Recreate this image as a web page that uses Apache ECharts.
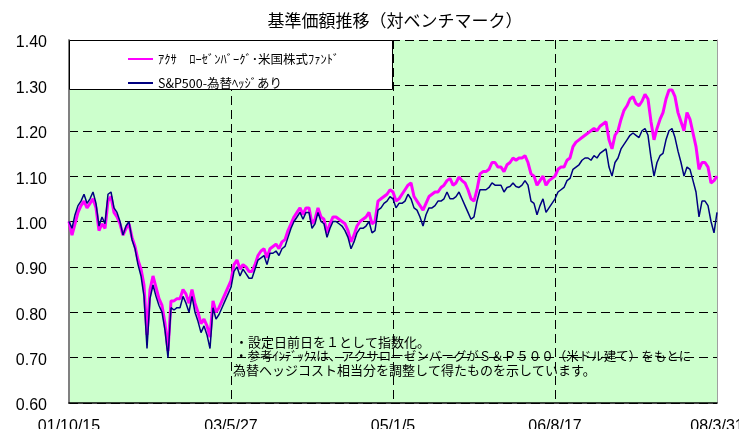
<!DOCTYPE html>
<html><head><meta charset="utf-8">
<script src="https://cdn.jsdelivr.net/npm/echarts@6.0.0/dist/echarts.min.js"></script>
<style>html,body{margin:0;padding:0;background:#fff}#c{width:739px;height:429px}</style>
</head><body><div id="c"></div>
<script>
// ---- data ----
const titleText = '基準価額推移（対ベンチマーク）';
const seriesNames = ['ｱｸｻ　ﾛｰｾﾞﾝﾊﾞｰｸﾞ･米国株式ﾌｧﾝﾄﾞ', 'S&P500-為替ﾍｯｼﾞあり'];
const tickLabels = ['01/10/15', '03/5/27', '05/1/5', '06/8/17', '08/3/31'];
const noteLines = [
  '・設定日前日を１として指数化。',
  '・参考ｲﾝﾃﾞｯｸｽは、アクサローゼンバーグがＳ＆Ｐ５００（米ドル建て）をもとに',
  '為替ヘッジコスト相当分を調整して得たものを示しています。'
];
// fund (index, 1 = day before launch)
const fund = [
  1.00,0.97,0.995,1.02,1.035,1.045,1.03,1.04,1.05,1.03,
  0.98,0.995,0.985,1.045,1.055,1.02,1.01,0.995,0.97,0.985,
  0.995,0.965,0.945,0.915,0.895,0.86,0.75,0.85,0.88,0.855,
  0.83,0.815,0.775,0.715,0.825,0.825,0.83,0.83,0.85,0.84,
  0.82,0.85,0.82,0.80,0.775,0.785,0.77,0.745,0.825,0.80,
  0.81,0.825,0.84,0.855,0.87,0.905,0.915,0.895,0.905,0.90,
  0.89,0.89,0.905,0.925,0.935,0.94,0.92,0.94,0.945,0.95,
  0.94,0.955,0.96,0.98,0.995,1.01,1.02,1.03,1.015,1.03,
  1.03,0.995,1.005,1.03,1.01,1.005,0.975,0.995,1.01,1.01,
  1.005,1.00,0.995,0.98,0.955,0.97,0.99,1.00,1.005,1.01,
  1.02,0.995,1.00,1.045,1.05,1.055,1.06,1.07,1.065,1.045,
  1.05,1.06,1.07,1.08,1.085,1.055,1.045,1.035,1.025,1.04,
  1.055,1.06,1.065,1.065,1.075,1.08,1.09,1.095,1.08,1.085,
  1.098,1.09,1.085,1.07,1.05,1.045,1.07,1.105,1.11,1.11,
  1.115,1.13,1.13,1.12,1.12,1.11,1.125,1.13,1.14,1.135,
  1.14,1.14,1.145,1.13,1.105,1.10,1.08,1.09,1.10,1.08,
  1.09,1.095,1.10,1.115,1.12,1.12,1.135,1.14,1.165,1.175,
  1.18,1.185,1.19,1.195,1.20,1.205,1.20,1.21,1.215,1.22,
  1.18,1.16,1.19,1.20,1.225,1.245,1.255,1.27,1.275,1.26,
  1.255,1.265,1.28,1.27,1.22,1.18,1.205,1.225,1.24,1.27,
  1.29,1.29,1.275,1.24,1.22,1.20,1.24,1.225,1.195,1.165,
  1.115,1.13,1.13,1.12,1.085,1.09,1.10
];
// benchmark (S&P500 hedged, index)
const bench = [
  1.00,0.985,1.015,1.035,1.045,1.06,1.04,1.05,1.065,1.04,
  0.99,1.01,0.995,1.06,1.065,1.03,1.02,1.00,0.97,0.99,
  1.00,0.96,0.94,0.905,0.88,0.835,0.72,0.83,0.86,0.835,
  0.815,0.80,0.76,0.70,0.81,0.805,0.81,0.81,0.835,0.82,
  0.80,0.835,0.80,0.78,0.755,0.77,0.75,0.72,0.81,0.785,
  0.795,0.81,0.825,0.84,0.855,0.89,0.90,0.88,0.895,0.885,
  0.875,0.875,0.895,0.915,0.92,0.925,0.905,0.93,0.93,0.935,
  0.925,0.94,0.945,0.965,0.985,1.00,1.01,1.02,1.005,1.02,
  1.02,0.985,0.995,1.02,1.00,0.995,0.965,0.985,1.00,1.00,
  0.995,0.99,0.98,0.965,0.94,0.955,0.975,0.985,0.985,0.99,
  1.00,0.975,0.98,1.025,1.03,1.04,1.045,1.055,1.05,1.03,
  1.04,1.04,1.045,1.06,1.05,1.03,1.025,1.01,0.99,1.015,
  1.03,1.03,1.035,1.045,1.045,1.05,1.065,1.05,1.05,1.055,
  1.065,1.05,1.035,1.02,1.005,1.01,1.045,1.07,1.07,1.07,
  1.075,1.085,1.08,1.08,1.08,1.065,1.075,1.077,1.085,1.077,
  1.075,1.08,1.09,1.08,1.045,1.04,1.015,1.035,1.05,1.02,
  1.03,1.04,1.05,1.065,1.07,1.075,1.09,1.095,1.115,1.12,
  1.125,1.135,1.14,1.14,1.135,1.145,1.14,1.15,1.155,1.16,
  1.12,1.10,1.13,1.14,1.16,1.17,1.18,1.19,1.195,1.19,
  1.185,1.20,1.205,1.19,1.14,1.10,1.13,1.145,1.15,1.18,
  1.20,1.205,1.185,1.155,1.13,1.10,1.12,1.115,1.09,1.065,
  1.01,1.045,1.045,1.035,1.00,0.975,1.02
];
const yMin = 0.6, yMax = 1.4, yStep = 0.1;

// ---- chart ----
const lastIdx = fund.length - 1;
const xStep = lastIdx / (tickLabels.length - 1);
const toPairs = arr => arr.map((v, i) => [i, v]);
const dash = {color: '#000', type: [9, 5], width: 1};
const labelFont = {fontFamily: 'Liberation Sans', fontSize: 16, color: '#000'};
const jp = '"Noto Sans CJK JP"';

const chart = echarts.init(document.getElementById('c'), null, {renderer: 'canvas'});
chart.setOption({
  animation: false,
  backgroundColor: '#fff',
  title: {
    text: titleText, left: 390, top: 7, textAlign: 'center',
    textStyle: {fontFamily: 'Noto Sans CJK JP', fontSize: 17, fontWeight: 'normal', color: '#000'}
  },
  grid: {left: 69, top: 40, right: 22, bottom: 26, show: true, backgroundColor: '#CCFFCC', borderWidth: 0,
         containLabel: false, outerBoundsMode: 'none'},
  legend: {
    orient: 'vertical', left: 123, top: 47, itemWidth: 25, itemHeight: 2, itemGap: 10, icon: 'rect',
    textStyle: {fontFamily: 'Noto Sans CJK JP', fontSize: 12.5, color: '#000', lineHeight: 14},
    data: seriesNames, z: 10
  },
  xAxis: {
    type: 'value', min: 0, max: lastIdx, interval: xStep,
    axisLine: {show: true, lineStyle: {color: '#000', width: 1.5}},
    axisTick: {show: false},
    splitLine: {show: true, lineStyle: dash},
    axisLabel: Object.assign({margin: 16, showMaxLabel: true, showMinLabel: true, hideOverlap: false,
      formatter: v => tickLabels[Math.round(v / xStep)] || ''}, labelFont)
  },
  yAxis: [{
    type: 'value', min: yMin, max: yMax, interval: yStep,
    axisLine: {show: true, lineStyle: {color: '#808080', width: 2}},
    axisTick: {show: false},
    splitLine: {show: true, lineStyle: dash},
    axisLabel: Object.assign({margin: 22, verticalAlign: 'top', lineHeight: 6, formatter: v => v.toFixed(2)}, labelFont)
  }, {
    type: 'value', position: 'right', min: yMin, max: yMax, interval: yStep,
    axisLine: {show: true, lineStyle: {color: '#a0a0a0', width: 1}},
    axisTick: {show: false}, axisLabel: {show: false}, splitLine: {show: false}
  }],
  graphic: [
    {type: 'rect', z: 5, shape: {x: 69.5, y: 40.5, width: 323, height: 49}, style: {fill: '#fff', stroke: '#000', lineWidth: 1}},
    {type: 'text', z: 6, x: 235, y: 342, style: {text: noteLines[0], font: '13px ' + jp, fill: '#000', verticalAlign: 'middle'}},
    {type: 'text', z: 6, x: 235, y: 356, style: {text: noteLines[1], font: '12.5px ' + jp, fill: '#000', verticalAlign: 'middle'}},
    {type: 'text', z: 6, x: 233, y: 370, style: {text: noteLines[2], font: '13px ' + jp, fill: '#000', verticalAlign: 'middle'}}
  ],
  series: [
    {name: seriesNames[0], type: 'line', data: toPairs(fund), showSymbol: false, symbol: 'none',
     lineStyle: {color: '#FF00FF', width: 3}, itemStyle: {color: '#FF00FF'}, z: 2},
    {name: seriesNames[1], type: 'line', data: toPairs(bench), showSymbol: false, symbol: 'none',
     lineStyle: {color: '#000080', width: 1.5}, itemStyle: {color: '#000080'}, z: 3}
  ]
});
</script></body></html>
